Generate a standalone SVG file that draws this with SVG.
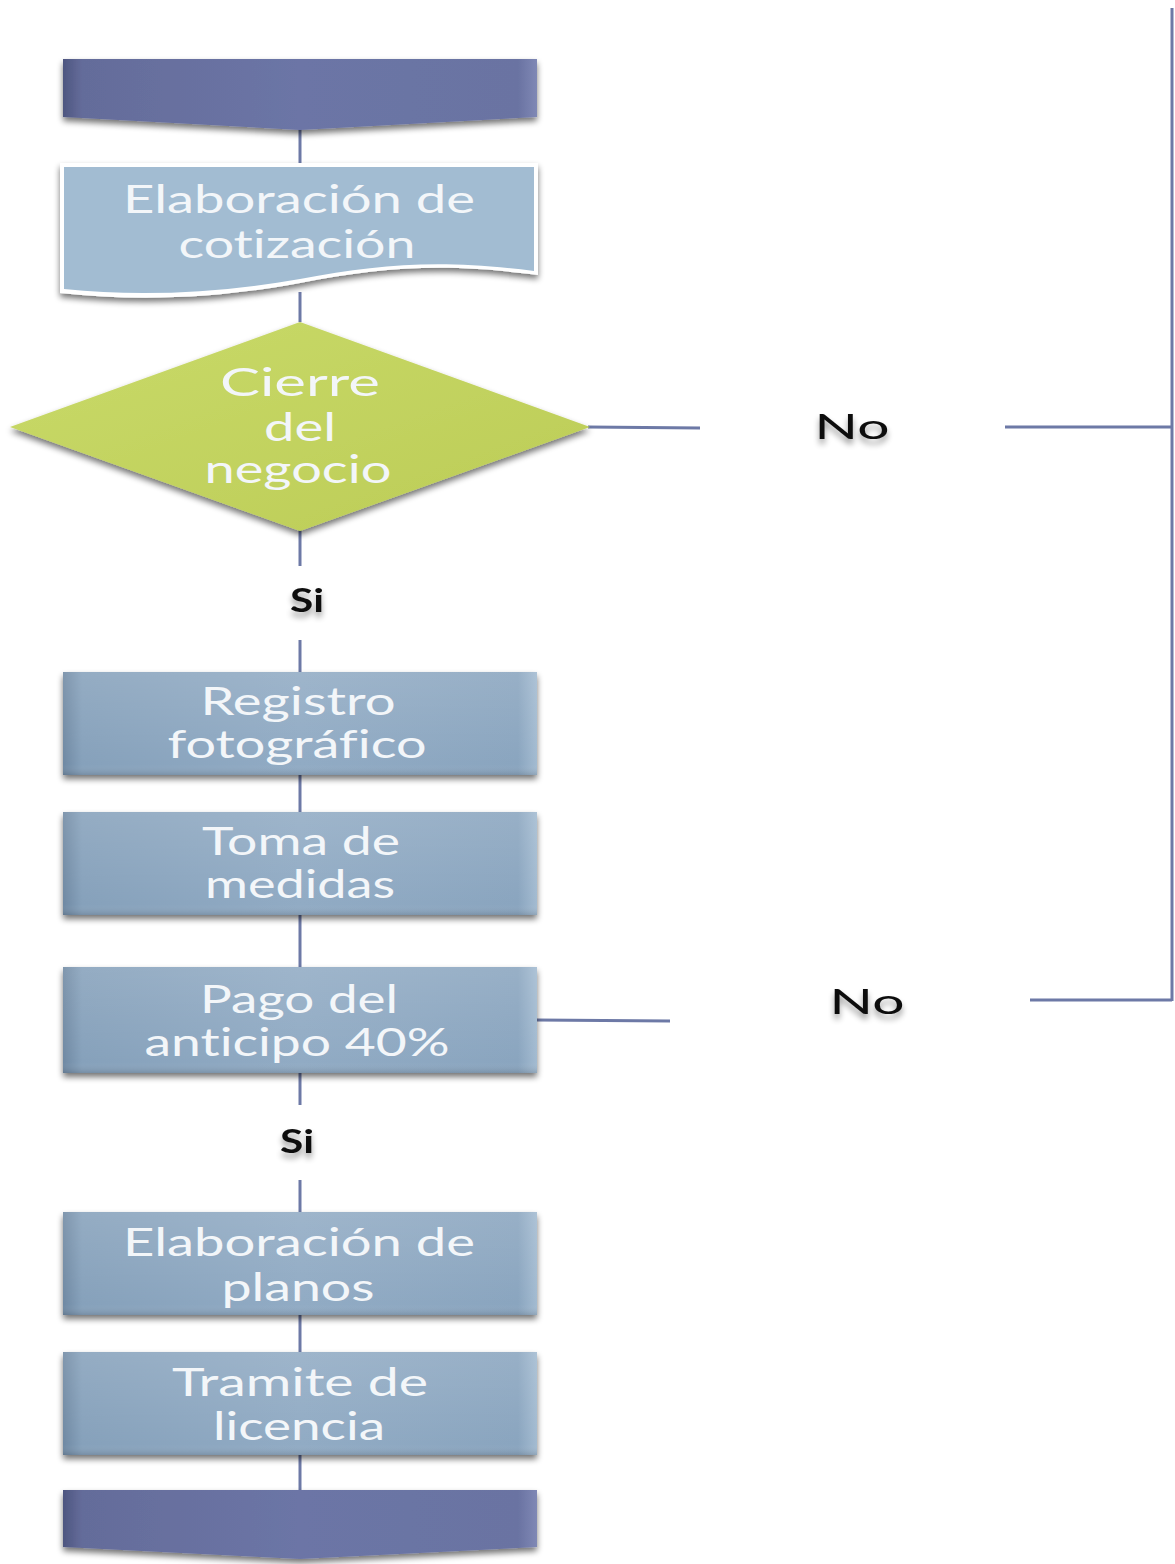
<svg xmlns="http://www.w3.org/2000/svg" width="1175" height="1564" viewBox="0 0 1175 1564">
<style>
.lbl{font-family:Lato,"Liberation Sans",sans-serif;font-size:39px;fill:#f3f6f9;text-anchor:middle;font-variant-ligatures:none}
.ans{font-family:Lato,"Liberation Sans",sans-serif;font-size:34px;fill:#111;text-anchor:middle}
.si{font-family:Lato,"Liberation Sans",sans-serif;font-size:32px;font-weight:bold;fill:#111;text-anchor:middle}
.con{stroke:#6d79a6;stroke-width:3;fill:none}
</style>
<defs>
<filter id="sh" x="-10%" y="-10%" width="120%" height="130%">
<feGaussianBlur in="SourceAlpha" stdDeviation="3"/>
<feOffset dy="4"/>
<feComponentTransfer><feFuncA type="linear" slope="0.55"/></feComponentTransfer>
<feMerge><feMergeNode/><feMergeNode in="SourceGraphic"/></feMerge>
</filter>
<filter id="tsh" x="-30%" y="-30%" width="160%" height="180%">
<feGaussianBlur in="SourceAlpha" stdDeviation="3"/>
<feOffset dy="5"/>
<feComponentTransfer><feFuncA type="linear" slope="0.4"/></feComponentTransfer>
<feMerge><feMergeNode/><feMergeNode in="SourceGraphic"/></feMerge>
</filter>
<linearGradient id="gBox" x1="0" y1="0" x2="1" y2="0">
<stop offset="0" stop-color="#6f89a3"/>
<stop offset="0.04" stop-color="#86a1bb"/>
<stop offset="0.5" stop-color="#91abc4"/>
<stop offset="0.96" stop-color="#8aa5bf"/>
<stop offset="1" stop-color="#a3bbd1"/>
</linearGradient>
<linearGradient id="gBoxV" x1="0" y1="0" x2="0" y2="1">
<stop offset="0" stop-color="#ffffff" stop-opacity="0.12"/>
<stop offset="0.9" stop-color="#ffffff" stop-opacity="0"/>
<stop offset="1" stop-color="#000000" stop-opacity="0.12"/>
</linearGradient>
<linearGradient id="gOff" x1="0" y1="0" x2="1" y2="0">
<stop offset="0" stop-color="#4e5680"/>
<stop offset="0.04" stop-color="#646c9a"/>
<stop offset="0.5" stop-color="#6c75a6"/>
<stop offset="0.96" stop-color="#6a73a2"/>
<stop offset="1" stop-color="#7f88b5"/>
</linearGradient>
<linearGradient id="gDia" x1="0" y1="0" x2="1" y2="1">
<stop offset="0" stop-color="#c9da6a"/>
<stop offset="1" stop-color="#bccc55"/>
</linearGradient>
</defs>

<g id="connectors">
<line class="con" x1="300" y1="128" x2="300" y2="165"/>
<line class="con" x1="300" y1="292" x2="300" y2="322"/>
<line class="con" x1="300" y1="530" x2="300" y2="566"/>
<line class="con" x1="300" y1="640" x2="300" y2="672"/>
<line class="con" x1="300" y1="775" x2="300" y2="812"/>
<line class="con" x1="300" y1="915" x2="300" y2="967"/>
<line class="con" x1="300" y1="1073" x2="300" y2="1105"/>
<line class="con" x1="300" y1="1180" x2="300" y2="1212"/>
<line class="con" x1="300" y1="1315" x2="300" y2="1352"/>
<line class="con" x1="300" y1="1455" x2="300" y2="1490"/>
<polyline class="con" points="588,427 700,428"/>
<polyline class="con" points="1005,427 1172,427"/>
<polyline class="con" points="537,1020 670,1021"/>
<polyline class="con" points="1030,1000 1172,1000"/>
<line class="con" x1="1172" y1="8" x2="1172" y2="1001" stroke-width="4"/>
<text class="ans" x="852" y="439" textLength="75" lengthAdjust="spacingAndGlyphs" filter="url(#tsh)">No</text>
<text class="ans" x="867" y="1014" textLength="75" lengthAdjust="spacingAndGlyphs" filter="url(#tsh)">No</text>
<text class="si" x="307" y="612" textLength="34" lengthAdjust="spacingAndGlyphs" filter="url(#tsh)">Si</text>
<text class="si" x="297" y="1153" textLength="34" lengthAdjust="spacingAndGlyphs" filter="url(#tsh)">Si</text>
</g>

<g id="start">
<path d="M63,59 H537 V117 L300,130 L63,117 Z" fill="url(#gOff)" filter="url(#sh)"/>
</g>

<g id="cotizacion">
<path d="M60,163 H538 V275 C440,262 380,268 300,283 C220,298 140,302 60,293 Z" fill="#ffffff" filter="url(#sh)"/>
<path d="M64,167 H534 V271 C440,259 380,264 300,279 C220,293 140,297 64,289 Z" fill="#a2bcd2"/>
<text class="lbl" x="299" y="213" textLength="352" lengthAdjust="spacingAndGlyphs">Elaboración de</text>
<text class="lbl" x="297" y="258" textLength="237" lengthAdjust="spacingAndGlyphs">cotización</text>
</g>

<g id="cierre">
<polygon points="300,322 590,427 300,531 10,427" fill="url(#gDia)" filter="url(#sh)"/>
<text class="lbl" x="300" y="396" textLength="160" lengthAdjust="spacingAndGlyphs">Cierre</text>
<text class="lbl" x="300" y="441" textLength="72" lengthAdjust="spacingAndGlyphs">del</text>
<text class="lbl" x="298" y="483" textLength="187" lengthAdjust="spacingAndGlyphs">negocio</text>
</g>

<g id="registro">
<rect x="63" y="672" width="474" height="103" fill="url(#gBox)" filter="url(#sh)"/>
<rect x="63" y="672" width="474" height="103" fill="url(#gBoxV)"/>
<text class="lbl" x="298" y="715" textLength="195" lengthAdjust="spacingAndGlyphs">Registro</text>
<text class="lbl" x="297" y="758" textLength="259" lengthAdjust="spacingAndGlyphs">fotográfico</text>
</g>

<g id="medidas">
<rect x="63" y="812" width="474" height="103" fill="url(#gBox)" filter="url(#sh)"/>
<rect x="63" y="812" width="474" height="103" fill="url(#gBoxV)"/>
<text class="lbl" x="301" y="855" textLength="198" lengthAdjust="spacingAndGlyphs">Toma de</text>
<text class="lbl" x="300" y="898" textLength="190" lengthAdjust="spacingAndGlyphs">medidas</text>
</g>

<g id="anticipo">
<rect x="63" y="967" width="474" height="106" fill="url(#gBox)" filter="url(#sh)"/>
<rect x="63" y="967" width="474" height="106" fill="url(#gBoxV)"/>
<text class="lbl" x="299" y="1013" textLength="198" lengthAdjust="spacingAndGlyphs">Pago del</text>
<text class="lbl" x="297" y="1056" textLength="305" lengthAdjust="spacingAndGlyphs">anticipo 40%</text>
</g>

<g id="planos">
<rect x="63" y="1212" width="474" height="103" fill="url(#gBox)" filter="url(#sh)"/>
<rect x="63" y="1212" width="474" height="103" fill="url(#gBoxV)"/>
<text class="lbl" x="299" y="1256" textLength="352" lengthAdjust="spacingAndGlyphs">Elaboración de</text>
<text class="lbl" x="298" y="1301" textLength="153" lengthAdjust="spacingAndGlyphs">planos</text>
</g>

<g id="licencia">
<rect x="63" y="1352" width="474" height="103" fill="url(#gBox)" filter="url(#sh)"/>
<rect x="63" y="1352" width="474" height="103" fill="url(#gBoxV)"/>
<text class="lbl" x="300" y="1396" textLength="256" lengthAdjust="spacingAndGlyphs">Tramite de</text>
<text class="lbl" x="299" y="1440" textLength="172" lengthAdjust="spacingAndGlyphs">licencia</text>
</g>

<g id="end">
<path d="M63,1490 H537 V1547 L300,1559 L63,1547 Z" fill="url(#gOff)" filter="url(#sh)"/>
</g>
</svg>
